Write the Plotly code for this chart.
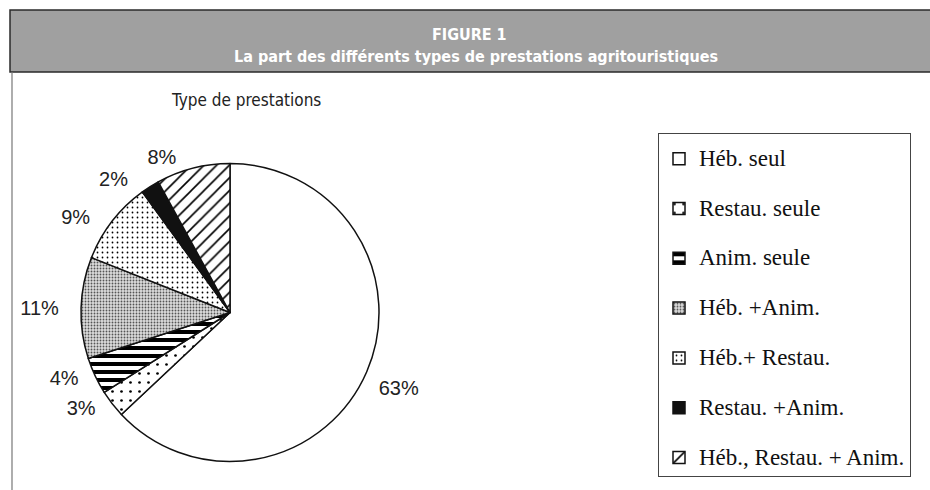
import plotly.graph_objects as go

# ---- data ----
categories = ["Héb. seul", "Restau. seule", "Anim. seule", "Héb. +Anim.",
              "Héb.+ Restau.", "Restau. +Anim.", "Héb., Restau. + Anim."]
shares = [63, 3, 4, 11, 9, 2, 8]

title_main = "FIGURE 1"
title_sub = "La part des différents types de prestations agritouristiques"
pie_title = "Type de prestations"

# ---- styles ----
slice_colors = ["white", "white", "white", "#dcdcdc", "white", "#111111", "white"]
pat_shapes = ["", ".", "-", ".", ".", "", "/"]
pat_sizes = [8, 9, 8, 3, 5, 8, 9]
pat_solid = [0.2, 0.07, 0.5, 0.3, 0.1, 0.2, 0.18]
pat_fg = ["black", "black", "black", "#555555", "black", "black", "black"]
# horizontal padding of the outside percentage labels (non-breaking spaces)
label_pad = [0, 2, 2, 3, 3, 3, 2]

W, H = 930, 490

legend_labels = []
for i, c in enumerate(categories):
    span = "<span style='font-size:23px'>%s</span>" % c
    legend_labels.append(span if i == 0 else "&nbsp;<br>" + span)

templates = []
for i, p in enumerate(label_pad):
    if i == 0:
        templates.append("&nbsp;<br>%{percent:.0%}")
    else:
        templates.append("%{percent:.0%}" + "&nbsp;" * p)

cx, cy, r = 230, 312.5, 149
fig = go.Figure(go.Pie(
    labels=legend_labels,
    values=shares,
    sort=False,
    direction="clockwise",
    rotation=0,
    textposition="outside",
    texttemplate=templates,
    outsidetextfont=dict(family="Liberation Sans, Arial, sans-serif", size=20, color="#222"),
    marker=dict(
        colors=slice_colors,
        line=dict(color="#111", width=1.5),
        pattern=dict(shape=pat_shapes, size=pat_sizes, solidity=pat_solid,
                     fgcolor=pat_fg, bgcolor=slice_colors, fillmode="replace"),
    ),
    domain=dict(x=[(cx - r) / W, (cx + r) / W],
                y=[(H - cy - r) / H, (H - cy + r) / H]),
    hoverinfo="skip",
    showlegend=True,
))

shapes = [
    dict(type="rect", xref="paper", yref="paper",
         x0=10 / W, x1=1.02, y0=1 - 72 / H, y1=1 - 10 / H,
         fillcolor="#a0a0a0", line=dict(color="#2a2a2a", width=1.5), layer="below"),
    dict(type="line", xref="paper", yref="paper",
         x0=12 / W, x1=12 / W, y0=0, y1=1 - 72 / H,
         line=dict(color="#777", width=1.2)),
]

cond = "DejaVu Sans Condensed, Liberation Sans Narrow, sans-serif"
annotations = [
    dict(text="<b>%s</b>" % title_main, x=469 / W, y=1 - 35 / H, xref="paper", yref="paper",
         showarrow=False, xanchor="center", yanchor="middle",
         font=dict(family=cond, size=16, color="white")),
    dict(text="<b>%s</b>" % title_sub, x=476 / W, y=1 - 56 / H, xref="paper", yref="paper",
         showarrow=False, xanchor="center", yanchor="middle",
         font=dict(family=cond, size=16, color="white")),
    dict(text=pie_title, x=246 / W, y=1 - 100 / H, xref="paper", yref="paper",
         showarrow=False, xanchor="center", yanchor="middle",
         font=dict(family=cond, size=17, color="#222")),
]

fig.update_layout(
    width=W, height=H,
    margin=dict(l=0, r=0, t=0, b=0),
    paper_bgcolor="white", plot_bgcolor="white",
    shapes=shapes, annotations=annotations,
    legend=dict(x=658 / W, y=1 - 133 / H, xanchor="left", yanchor="top",
                bgcolor="white", bordercolor="#444", borderwidth=1,
                title=dict(text="&nbsp;", font=dict(size=5)),
                font=dict(family="Liberation Serif, Times New Roman, serif", size=18, color="#111"),
                valign="bottom", itemclick=False, itemdoubleclick=False),
)

post = ("document.body.style.margin='0';"
        "document.querySelectorAll('path.textline').forEach(function(e){e.style.display='none';});")
fig.write_html("out.html", post_script=post, config={"displayModeBar": False})
